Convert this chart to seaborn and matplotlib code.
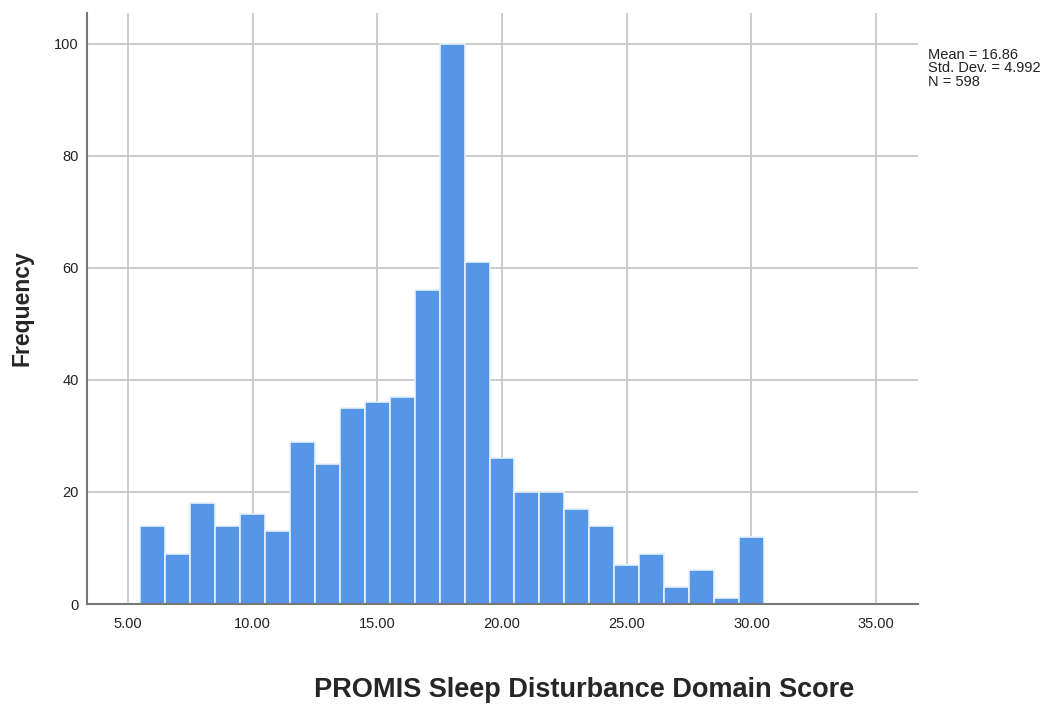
import numpy as np
import pandas as pd
import seaborn as sns
import matplotlib.pyplot as plt

# bin centres (width 1) and the count
centers = [6, 7, 8, 9, 10, 11, 12, 13, 14, 15, 16, 17, 18, 19, 20,
           21, 22, 23, 24, 25, 26, 27, 28, 29, 30]
counts = [14, 9, 18, 14, 16, 13, 29, 25, 35, 36, 37, 56, 100, 61, 26,
          20, 20, 17, 14, 7, 9, 3, 6, 1, 12]
x_ticks = [5, 10, 15, 20, 25, 30, 35]
x_tick_labels = ["5.00", "10.00", "15.00", "20.00", "25.00", "30.00", "35.00"]
y_ticks = [0, 20, 40, 60, 80, 100]
stats_text = "Mean = 16.86\nStd. Dev. = 4.992\nN = 598"

# one row per respondent, rebuilt from the bar counts
df = pd.DataFrame({"score": np.repeat(centers, counts).astype(float)})

sns.set_style("white")
plt.rcParams["font.family"] = ["Liberation Sans", "DejaVu Sans"]

fig = plt.figure(figsize=(10.54, 7.09), dpi=100)
ax = fig.add_axes([0.0825, 0.148, 0.7885, 0.834])

sns.histplot(data=df, x="score", bins=np.arange(5.5, 31.5, 1),
             color="#5596E6", alpha=1, edgecolor="#E8F1FC", linewidth=1.2,
             ax=ax)

ax.set_xlim(3.36, 36.68)
ax.set_ylim(0, 105.5)
ax.set_xticks(x_ticks)
ax.set_xticklabels(x_tick_labels)
ax.set_yticks(y_ticks)
ax.tick_params(axis="both", length=0, labelsize=10.5, colors="#222222")
ax.tick_params(axis="x", pad=9)
ax.tick_params(axis="y", pad=6)
ax.grid(True, color="#C8C8C8", linewidth=1.3)
ax.set_axisbelow(True)

for side in ["top", "right"]:
    ax.spines[side].set_visible(False)
for side in ["left", "bottom"]:
    ax.spines[side].set_color("#777777")
    ax.spines[side].set_linewidth(1.5)

ax.set_xlabel("")
ax.set_ylabel("")
fig.text(0.021, 0.565, "Frequency", rotation=90, fontsize=16.5, fontweight="bold",
         ha="center", va="center")
fig.text(0.554, 0.027, "PROMIS Sleep Disturbance Domain Score", fontsize=19.5,
         fontweight="bold", ha="center", va="center")
fig.text(0.880, 0.932, stats_text, fontsize=10.5, va="top", ha="left",
         linespacing=0.93, color="#222222")

fig.savefig("out.png", dpi=100)
